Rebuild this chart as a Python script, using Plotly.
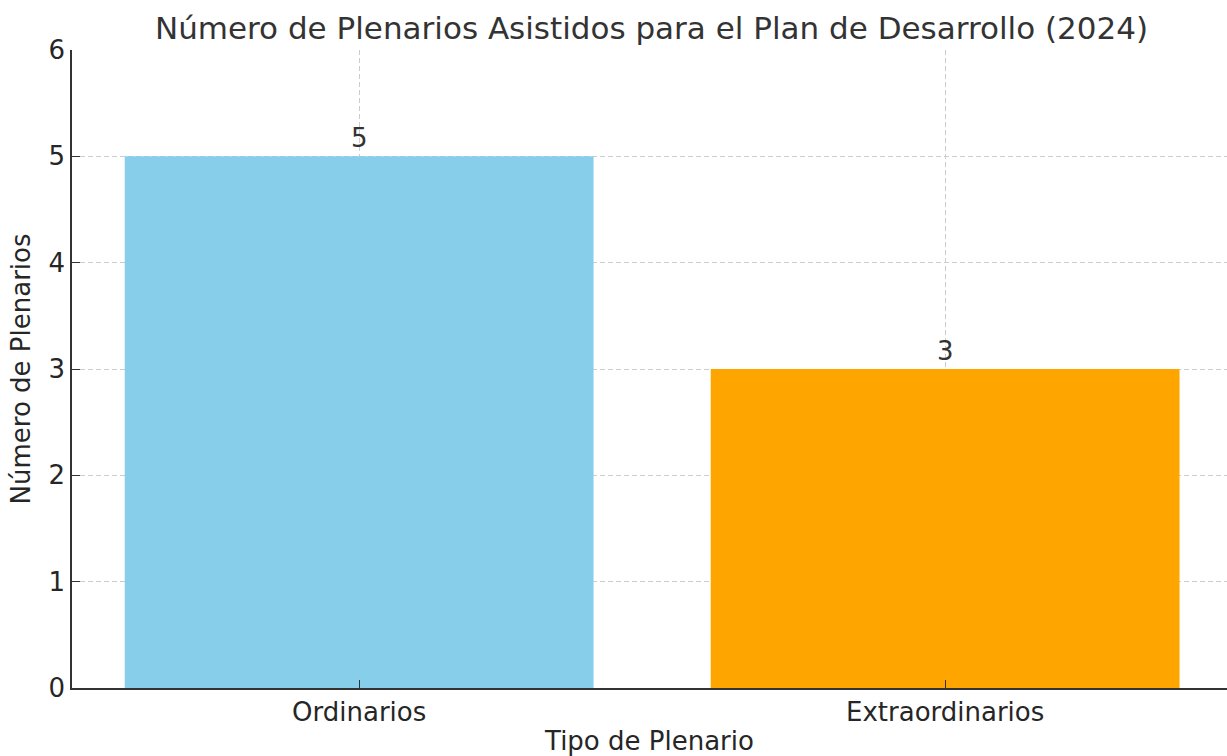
import plotly.graph_objects as go

categories = ["Ordinarios", "Extraordinarios"]
values = [5, 3]
colors = ["#87CEEB", "#FFA500"]
y_ticks = [0, 1, 2, 3, 4, 5, 6]

FONT = "DejaVu Sans"
TXT = "#333333"
TICK = "#262626"
FS = 26

fig = go.Figure()
fig.add_trace(go.Bar(
    x=categories, y=values, marker=dict(color=colors, line=dict(width=0)),
    width=0.8, showlegend=False, hoverinfo="x+y",
))

for c, v in zip(categories, values):
    fig.add_annotation(x=c, y=v, text=str(v), showarrow=False,
                       yanchor="bottom", yshift=1,
                       font=dict(family=FONT, size=FS, color=TXT))

fig.update_layout(
    width=1227, height=756,
    margin=dict(l=72, r=0, t=50, b=68, autoexpand=False),
    paper_bgcolor="white", plot_bgcolor="white",
    font=dict(family=FONT, color=TXT),
    title=dict(text="Número de Plenarios Asistidos para el Plan de Desarrollo (2024)",
               x=0.531, xanchor="center", y=0.963, yanchor="middle", yref="container",
               font=dict(family=FONT, size=31, color=TXT)),
    bargap=0.2,
)
fig.update_xaxes(
    range=[-0.49, 1.481], type="category", automargin=False,
    showline=True, linecolor=TXT, linewidth=1.6,
    ticks="inside", ticklen=8, tickwidth=1.2, tickcolor=TXT,
    showgrid=True, gridcolor="#cccccc", gridwidth=1, griddash="5px,3px",
    layer="above traces", ticklabelstandoff=0,
    tickfont=dict(family=FONT, size=FS, color=TICK),
    title=dict(text="Tipo de Plenario", font=dict(family=FONT, size=FS, color=TICK), standoff=8),
)
fig.update_yaxes(
    range=[0, 6], tickvals=y_ticks, automargin=False,
    showline=True, linecolor=TXT, linewidth=1.6,
    ticks="inside", ticklen=8, tickwidth=1.2, tickcolor=TXT,
    showgrid=True, gridcolor="#cccccc", gridwidth=1, griddash="5px,3px",
    zeroline=False, layer="above traces",
    tickfont=dict(family=FONT, size=FS, color=TICK),
    title=dict(text="Número de Plenarios", font=dict(family=FONT, size=FS, color=TICK), standoff=10),
)

fig.write_html("out.html", config={"displayModeBar": False},
               post_script="document.body.style.margin='0';document.body.style.overflow='hidden';")
